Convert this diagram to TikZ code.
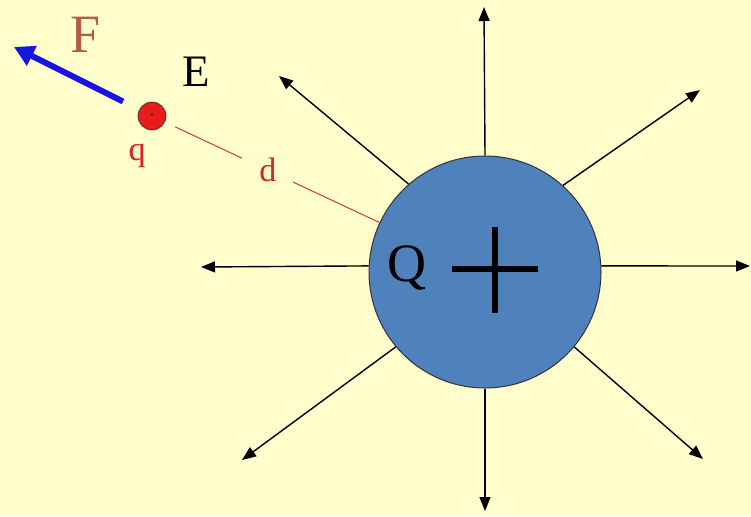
\documentclass[tikz,border=0pt]{standalone}
\usepackage{fontspec}
\setmainfont{Liberation Serif}
\usetikzlibrary{arrows.meta}
\definecolor{bg}{RGB}{255,253,204}
\definecolor{qblue}{RGB}{79,129,189}
\definecolor{fbrown}{RGB}{178,90,76}
\definecolor{dred}{RGB}{215,35,35}
\definecolor{dline}{RGB}{205,60,50}
\definecolor{chargered}{RGB}{232,28,28}
\definecolor{fblue}{RGB}{22,22,225}
\begin{document}
\begin{tikzpicture}[x=1pt,y=-1pt,
  field/.style={draw=black, line width=1.4pt, -{Triangle[length=14pt,width=11pt]}},
  bigcharge/.style={circle, draw=black!80, line width=1pt, fill=qblue, minimum size=232pt, inner sep=0pt},
  smallcharge/.style={circle, draw=black!75, line width=0.8pt, fill=chargered, minimum size=28pt, inner sep=0pt, font=\fontsize{7}{7}\selectfont},
  forcearrow/.style={draw=fblue, line width=6pt, -{Triangle[length=20pt,width=21pt]}},
  distline/.style={draw=dline, line width=1pt},
  dlabel/.style={fill=bg, text=dred, inner xsep=17pt, inner ysep=2pt, font=\fontsize{34}{34}\selectfont},
  biglabel/.style={font=\fontsize{54}{54}\selectfont, inner sep=0pt},
  plusbar/.style={draw=black, line width=6pt}]
\fill[bg] (0,0) rectangle (751,516);
\useasboundingbox (0,0) rectangle (751,516);
% field tips
\coordinate (t1) at (484,7);
\coordinate (t2) at (700,90);
\coordinate (t3) at (750,266);
\coordinate (t4) at (703,459);
\coordinate (t5) at (485,511);
\coordinate (t6) at (242,460);
\coordinate (t7) at (201,267);
\coordinate (t8) at (279,76);
\node[bigcharge] (Q) at (485,272) {};
\foreach \a/\t in {90/t1,48/t2,3/t3,320/t4,270/t5,220/t6,177/t7,131/t8}
  \draw[field] (Q.\a) -- (\t);
% plus sign
\coordinate (pl) at (452,269);
\coordinate (pr) at (538,269);
\coordinate (pt) at (495,227);
\coordinate (pb) at (495,313);
\draw[plusbar] (pl) -- (pr);
\draw[plusbar] (pt) -- (pb);
\node[biglabel, text=black] (Qlbl) at (407,268) {Q};
% test charge
\node[smallcharge] (q) at (152,116) {+};
\coordinate (ftip) at (14,47);
\draw[forcearrow, shorten <=18pt] (q) -- (ftip);
\node[biglabel, text=fbrown] (Flbl) at (86,35) {F};
\node[font=\fontsize{45}{45}\selectfont, inner sep=0pt] (Elbl) at (196,72) {E};
\node[font=\fontsize{34}{34}\selectfont, text=dred, inner sep=0pt] (qlbl) at (137,156) {q};
\draw[distline, shorten <=11pt] (q) -- node[dlabel, pos=0.48] {d} (Q);
\end{tikzpicture}
\end{document}
